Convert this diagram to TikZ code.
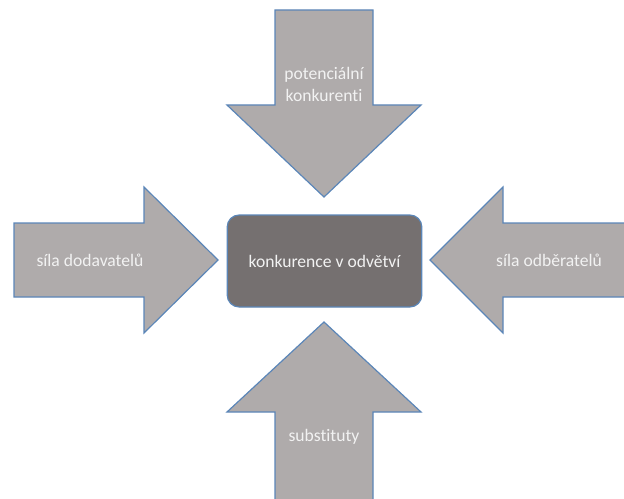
\documentclass[tikz,border=0pt]{standalone}
\usepackage{fontspec}
\setmainfont[Ligatures=NoCommon]{Carlito}
\definecolor{arrowfill}{HTML}{AFABAB}
\definecolor{arrowline}{HTML}{5B86B8}
\definecolor{boxfill}{HTML}{757070}
\definecolor{txt}{HTML}{F2F2F2}
\begin{document}
\begin{tikzpicture}[x=0.75pt,y=-0.75pt,
  bigarrow/.style={fill=arrowfill,draw=arrowline,line width=0.9pt,line join=miter},
  lbl/.style={text=txt,font=\fontsize{13.2}{16.5}\selectfont,align=center,inner sep=0pt}]
\useasboundingbox (0,0) rectangle (624,499);
\clip (0,0) rectangle (624,499);
% top arrow
\draw[bigarrow] (275,10) -- (373,10) -- (373,105) -- (421,105) -- (324,197) -- (227,105) -- (275,105) -- cycle;
% bottom arrow
\draw[bigarrow] (275,505) -- (373,505) -- (373,412) -- (421,412) -- (324,322) -- (227,412) -- (275,412) -- cycle;
% left arrow
\draw[bigarrow] (14,223) -- (144,223) -- (144,187) -- (218,260) -- (144,333) -- (144,297) -- (14,297) -- cycle;
% right arrow
\draw[bigarrow] (640,223) -- (503,223) -- (503,187) -- (430,260) -- (503,333) -- (503,297) -- (640,297) -- cycle;
% centre box
\node[draw=arrowline,fill=boxfill,line width=0.9pt,rounded corners=9pt,
  minimum width=146pt,minimum height=69pt,inner sep=0pt,
  text=txt,font=\fontsize{13.2}{16.5}\selectfont] (center) at (324.5,261)
  {konkurence v odvětví};
\node[lbl] (top) at (324,84) {potenciální\\konkurenti};
\node[lbl] (left) at (90,260) {síla dodavatelů};
\node[lbl] (right) at (549,260) {síla odběratelů};
\node[lbl] (bottom) at (324,437) {substituty};
\end{tikzpicture}
\end{document}
